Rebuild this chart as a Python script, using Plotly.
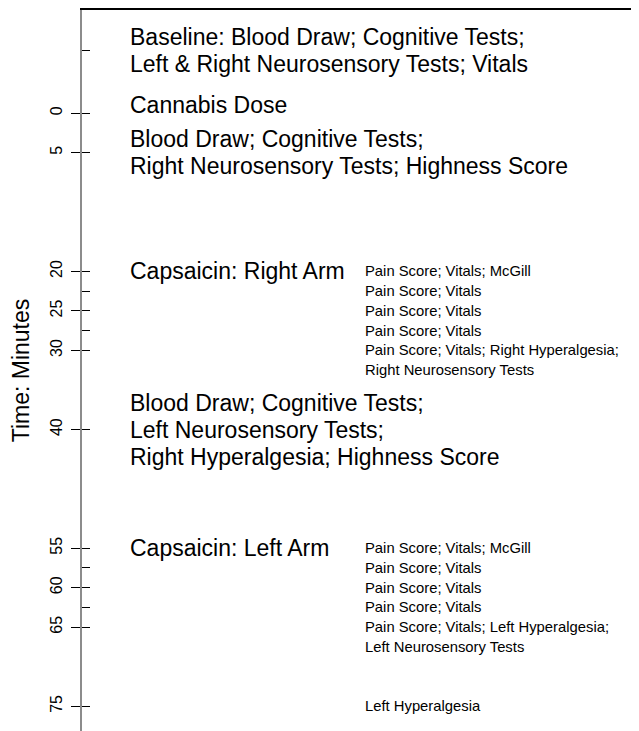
import plotly.graph_objects as go

# ---- data ----
big_times = [-8, -1, 5, 20, 40, 55]
big_labels = [
    ["Baseline: Blood Draw; Cognitive Tests;", "Left & Right Neurosensory Tests; Vitals"],
    ["Cannabis Dose"],
    ["Blood Draw; Cognitive Tests;", "Right Neurosensory Tests; Highness Score"],
    ["Capsaicin: Right Arm"],
    ["Blood Draw; Cognitive Tests;", "Left Neurosensory Tests;", "Right Hyperalgesia; Highness Score"],
    ["Capsaicin: Left Arm"],
]
small_times = [20, 22.5, 25, 27.5, 30, 55, 57.5, 60, 62.5, 65, 75]
small_labels = [
    ["Pain Score; Vitals; McGill"],
    ["Pain Score; Vitals"],
    ["Pain Score; Vitals"],
    ["Pain Score; Vitals"],
    ["Pain Score; Vitals; Right Hyperalgesia;", "Right Neurosensory Tests"],
    ["Pain Score; Vitals; McGill"],
    ["Pain Score; Vitals"],
    ["Pain Score; Vitals"],
    ["Pain Score; Vitals"],
    ["Pain Score; Vitals; Left Hyperalgesia;", "Left Neurosensory Tests"],
    ["Left Hyperalgesia"],
]
major_ticks = [0, 5, 20, 25, 30, 40, 55, 60, 65, 75]
minor_ticks = [-8, 22.5, 27.5, 57.5, 62.5]
y_range = [78.12, -13.06]

FONT = "Liberation Sans, Arial, Helvetica, sans-serif"
BIG = 23
SMALL = 14.8
BIG_LS = 27
SMALL_LS = 20

fig = go.Figure()
fig.add_trace(go.Scatter(x=[], y=[], showlegend=False))

ann = []
for t, lines in zip(big_times, big_labels):
    n = len(lines)
    for k, line in enumerate(lines):
        ann.append(dict(x=0.0826, y=t, xref="paper", yref="y", text=line,
                        showarrow=False, xanchor="left", yanchor="middle",
                        yshift=((n - 1) / 2 - k) * BIG_LS,
                        font=dict(family=FONT, size=BIG, color="black")))
for t, lines in zip(small_times, small_labels):
    for k, line in enumerate(lines):
        ann.append(dict(x=0.5045, y=t, xref="paper", yref="y", text=line,
                        showarrow=False, xanchor="left", yanchor="middle",
                        yshift=-k * SMALL_LS,
                        font=dict(family=FONT, size=SMALL, color="black")))

# the page body has an 8px default margin, so margins are reduced by 8px
fig.update_layout(
    width=639, height=731,
    margin=dict(l=74, r=8, t=2, b=8, autoexpand=False),
    plot_bgcolor="white", paper_bgcolor="white",
    showlegend=False,
    annotations=ann,
    xaxis=dict(range=[0, 1], side="top", showline=True, linecolor="black",
               linewidth=1.5, showgrid=False, zeroline=False,
               showticklabels=False, ticks="", automargin=False),
    yaxis=dict(range=y_range, showline=True, linecolor="#8c8c8c", linewidth=2,
               showgrid=False, zeroline=False, automargin=False,
               tickmode="array", tickvals=major_ticks,
               ticktext=[str(v) for v in major_ticks],
               ticks="outside", ticklen=9, tickcolor="black", tickwidth=1,
               tickangle=-90, ticklabelstandoff=3,
               tickfont=dict(family=FONT, size=16, color="black"),
               title=dict(text="Time: Minutes", standoff=14,
                          font=dict(family=FONT, size=23, color="black"))),
    yaxis2=dict(range=y_range, overlaying="y", anchor="x", side="left",
                showline=False, showgrid=False, zeroline=False, automargin=False,
                tickmode="array", tickvals=major_ticks + minor_ticks,
                ticks="inside", ticklen=8, tickcolor="black", tickwidth=1,
                showticklabels=False),
)
fig.add_trace(go.Scatter(x=[], y=[], yaxis="y2", showlegend=False))

fig.write_html("out.html")
